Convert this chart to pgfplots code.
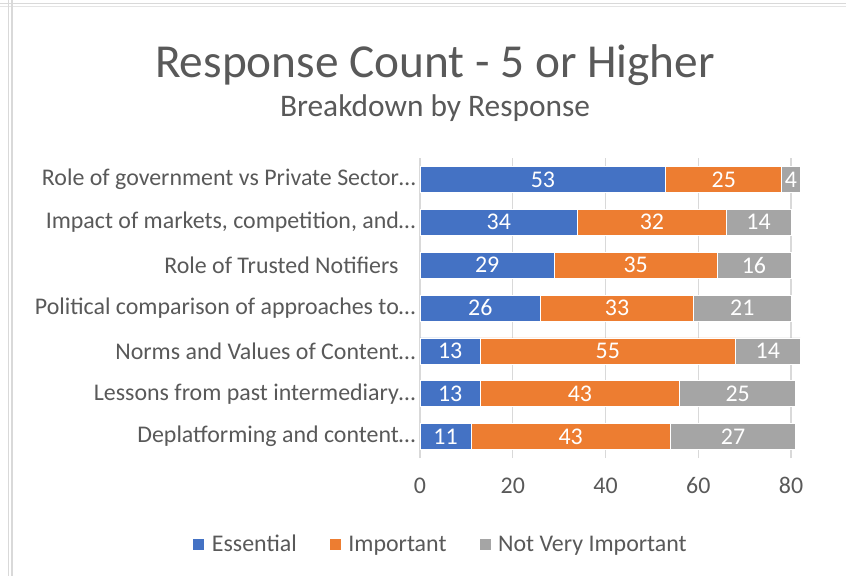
\documentclass[border=0pt]{standalone}
\usepackage{pgfplots}
\pgfplotsset{compat=1.18}
\usepackage{fontspec}
\setmainfont{Carlito}
\definecolor{cblue}{HTML}{4472C4}
\definecolor{corange}{HTML}{ED7D31}
\definecolor{cgray}{HTML}{A5A5A5}
\definecolor{ctext}{HTML}{595959}
\definecolor{cgrid}{HTML}{D9D9D9}
\begin{document}
\begin{tikzpicture}
\useasboundingbox[fill=white] (0,0) rectangle (846bp,-576bp);
\draw[cgrid, line width=1.6bp] (0,-3.6bp) -- (846bp,-3.6bp);
\draw[cgrid!70, line width=1bp] (0,-6.8bp) -- (846bp,-6.8bp);
\draw[cgrid, line width=1.6bp] (8.3bp,0) -- (8.3bp,-576bp);
\draw[cgrid, line width=1.6bp] (11.8bp,0) -- (11.8bp,-576bp);
\node[anchor=base, text=ctext, font=\fontsize{47.5}{50}\selectfont] at (435bp,-77bp) {Response Count - 5 or Higher};
\node[anchor=base, text=ctext, font=\fontsize{31.5}{34}\selectfont] at (435bp,-116bp) {Breakdown by Response};
\begin{axis}[
  at={(420bp,-158bp)}, anchor=north west,
  scale only axis,
  x=4.6375bp, height=300bp,
  xmin=0, xmax=82.5, ymin=-0.5, ymax=6.5,
  xbar stacked, bar width=26bp,
  axis line style={draw=none},
  major tick length=0,
  xtick={0,20,40,60,80},
  ytick={0,1,2,3,4,5,6},
  yticklabels={Deplatforming and content\dots,Lessons from past intermediary\dots,Norms and Values of Content\dots,Political comparison of approaches to\dots,Role of Trusted Notifiers\kern17bp,{Impact of markets, competition, and\dots},Role of government vs Private Sector\dots},
  xmajorgrids, ymajorgrids=false,
  grid style={cgrid, line width=1.3bp},
  tick label style={text=ctext, font=\fontsize{24}{26}\selectfont},
  /pgf/number format/assume math mode=true,
  yticklabel style={xshift=-1bp},
  xticklabel style={yshift=-16bp},
  point meta=explicit,
  nodes near coords,
  every node near coord/.append style={anchor=center, text=white, font=\fontsize{24}{26}\selectfont},
  legend columns=3,
  legend style={draw=none, fill=none, at={(axis description cs:0.051,-0.287)}, anchor=center,
    font=\fontsize{24}{26}\selectfont, text=ctext,
    /tikz/every odd column/.append style={column sep=7bp},
    /tikz/every even column/.append style={column sep=32bp},
    nodes={inner sep=0bp}},
  legend image code/.code={\fill[#1] (0bp,-6bp) rectangle (12bp,6bp);},
  clip=false,
]
\addplot[fill=cblue, draw=white, line width=0.6bp] coordinates {(11,0) [11] (13,1) [13] (13,2) [13] (26,3) [26] (29,4) [29] (34,5) [34] (53,6) [53]};
\addplot[fill=corange, draw=white, line width=0.6bp] coordinates {(43,0) [43] (43,1) [43] (55,2) [55] (33,3) [33] (35,4) [35] (32,5) [32] (25,6) [25]};
\addplot[fill=cgray, draw=white, line width=0.6bp] coordinates {(27,0) [27] (25,1) [25] (14,2) [14] (21,3) [21] (16,4) [16] (14,5) [14] (4,6) [4]};
\legend{Essential,Important,Not Very Important}
\end{axis}
\end{tikzpicture}
\end{document}
